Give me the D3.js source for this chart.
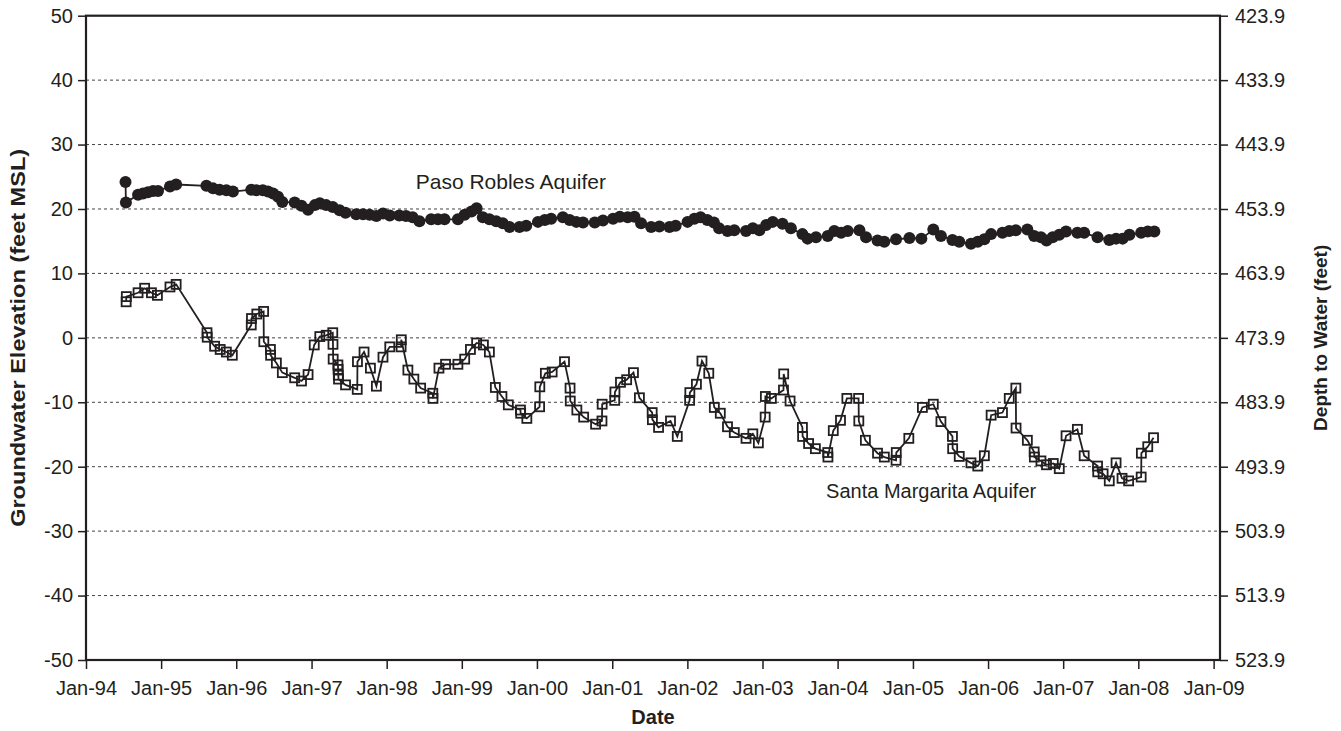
<!DOCTYPE html>
<html>
<head>
<meta charset="utf-8">
<script src="https://cdn.jsdelivr.net/npm/d3@7"></script>
<style>
  body { margin: 0; background: #fff; }
  svg text { font-family: Arial, "Liberation Sans", sans-serif; fill: #231f20; }
</style>
</head>
<body>
<div id="chart"></div>
<script>
// Paso Robles Aquifer (filled circles)
var prDates = ["1994-07-12","1994-07-14","1994-09-11","1994-10-05","1994-10-29","1994-11-23","1994-12-17",
  "1995-02-13","1995-03-15","1995-08-09","1995-09-10","1995-10-12","1995-11-14","1995-12-16",
  "1996-03-14","1996-04-08","1996-05-09","1996-06-03","1996-06-28","1996-07-22","1996-08-12","1996-10-11","1996-11-13","1996-12-15",
  "1997-01-17","1997-02-10","1997-03-13","1997-04-14","1997-05-17","1997-06-15","1997-08-06","1997-09-08","1997-10-10","1997-11-12","1997-12-14",
  "1998-01-16","1998-03-03","1998-04-05","1998-05-07","1998-06-09","1998-08-05","1998-09-07","1998-10-09","1998-12-13",
  "1999-01-15","1999-02-17","1999-03-14","1999-04-13","1999-05-15","1999-06-17","1999-07-19","1999-08-21","1999-10-08","1999-11-10",
  "2000-01-06","2000-02-08","2000-03-10","2000-05-06","2000-06-08","2000-07-10","2000-08-12","2000-10-08","2000-11-17",
  "2001-01-05","2001-02-07","2001-03-17","2001-04-19","2001-05-21","2001-07-09","2001-08-18","2001-10-06","2001-11-05",
  "2002-01-02","2002-02-04","2002-03-06","2002-04-08","2002-05-10","2002-06-04","2002-07-15","2002-08-17","2002-10-13","2002-11-15","2002-12-17",
  "2003-01-19","2003-02-20","2003-04-08","2003-05-19","2003-07-14","2003-08-08","2003-09-18","2003-11-14","2003-12-16",
  "2004-01-18","2004-02-19","2004-04-16","2004-05-18","2004-07-13","2004-08-15","2004-10-11","2004-12-15",
  "2005-02-11","2005-04-10","2005-05-17","2005-07-12","2005-08-14","2005-10-10","2005-11-12","2005-12-14",
  "2006-01-16","2006-03-12","2006-04-14","2006-05-16","2006-07-11","2006-08-13","2006-09-15","2006-10-12","2006-11-11","2006-12-13",
  "2007-01-15","2007-03-11","2007-04-13","2007-06-17","2007-08-13","2007-09-15","2007-10-17","2007-11-19",
  "2008-01-15","2008-02-16","2008-03-19"];
var prValues = [24.2,21.0,22.2,22.4,22.6,22.8,22.8,
  23.5,23.8,23.6,23.2,23.0,22.9,22.7,
  23.0,22.9,22.9,22.7,22.4,21.9,21.1,21.0,20.5,19.9,
  20.6,20.9,20.6,20.3,19.8,19.4,19.2,19.2,19.1,18.9,19.3,
  19.0,19.0,18.9,18.7,18.1,18.4,18.4,18.4,18.4,
  19.1,19.6,20.1,18.7,18.4,18.1,17.8,17.2,17.2,17.4,
  18.0,18.3,18.5,18.7,18.3,18.0,17.9,17.9,18.2,
  18.5,18.8,18.7,18.8,17.8,17.2,17.3,17.2,17.4,
  18.0,18.5,18.7,18.3,17.9,17.0,16.6,16.7,16.6,17.0,16.7,
  17.5,18.0,17.7,17.0,16.1,15.4,15.6,15.8,16.6,
  16.3,16.6,16.7,15.6,15.1,14.9,15.3,15.5,
  15.4,16.8,15.8,15.2,14.9,14.6,14.9,15.3,
  16.1,16.3,16.6,16.7,16.8,15.8,15.6,15.1,15.6,16.0,
  16.5,16.3,16.3,15.6,15.2,15.4,15.4,16.0,
  16.3,16.5,16.5];

// Santa Margarita Aquifer (open squares)
var smDates = ["1994-07-15","1994-07-16","1994-09-11","1994-10-13","1994-11-15","1994-12-14",
  "1995-02-13","1995-03-15","1995-08-12","1995-08-13","1995-09-18","1995-10-15","1995-11-14","1995-12-13",
  "1996-03-14","1996-03-15","1996-04-10","1996-05-13","1996-05-14","1996-06-15","1996-06-16","1996-07-14","1996-08-12","1996-10-11","1996-11-13","1996-12-15",
  "1997-01-14","1997-02-10","1997-03-13","1997-04-14","1997-04-15","1997-04-16","1997-05-09","1997-05-10","1997-05-11","1997-05-12","1997-06-15","1997-08-11","1997-08-12","1997-09-13","1997-10-14","1997-11-12","1997-12-14",
  "1998-01-16","1998-03-12","1998-03-13","1998-04-14","1998-05-13","1998-06-15","1998-08-13","1998-08-14","1998-09-12","1998-10-14","1998-12-13",
  "1999-01-15","1999-02-12","1999-03-14","1999-04-16","1999-05-15","1999-06-13","1999-07-15","1999-08-15","1999-10-13","1999-10-14","1999-11-13",
  "2000-01-14","2000-01-15","2000-02-11","2000-03-15","2000-05-14","2000-06-10","2000-06-11","2000-07-13","2000-08-15","2000-10-12","2000-11-12","2000-11-13",
  "2001-01-13","2001-01-14","2001-02-10","2001-03-12","2001-04-14","2001-05-13","2001-07-14","2001-07-15","2001-08-14","2001-10-11","2001-11-13",
  "2002-01-12","2002-01-13","2002-02-14","2002-03-13","2002-04-15","2002-05-12","2002-06-10","2002-07-15","2002-08-17","2002-10-13","2002-11-15","2002-12-12",
  "2003-01-14","2003-01-15","2003-02-13","2003-04-13","2003-04-14","2003-05-15","2003-07-14","2003-07-15","2003-08-13","2003-09-15","2003-11-14","2003-11-15","2003-12-11",
  "2004-01-15","2004-02-15","2004-04-12","2004-04-13","2004-05-15","2004-07-13","2004-08-15","2004-10-11","2004-10-12","2004-12-12",
  "2005-02-16","2005-04-10","2005-05-17","2005-07-12","2005-07-13","2005-08-14","2005-10-10","2005-11-12","2005-12-14",
  "2006-01-16","2006-03-12","2006-04-14","2006-05-16","2006-05-17","2006-07-11","2006-08-13","2006-08-14","2006-09-15","2006-10-12","2006-11-14","2006-12-13",
  "2007-01-15","2007-03-11","2007-04-13","2007-06-17","2007-06-18","2007-07-14","2007-08-13","2007-09-15","2007-10-14","2007-11-15",
  "2008-01-15","2008-01-16","2008-02-16","2008-03-15"];
var smValues = [5.6,6.4,7.0,7.7,7.0,6.6,
  7.9,8.3,0.8,0.1,-1.3,-1.8,-2.2,-2.7,
  2.0,3.0,3.7,4.1,-0.6,-1.8,-2.7,-3.9,-5.4,-6.2,-6.7,-5.7,
  -1.1,0.2,0.4,0.8,-1.0,-3.3,-4.2,-4.9,-5.8,-6.4,-7.3,-8.0,-3.7,-2.2,-4.7,-7.5,-3.0,
  -1.4,-1.4,-0.3,-5.0,-6.4,-7.8,-8.6,-9.4,-4.7,-4.1,-4.1,
  -3.3,-1.8,-0.8,-1.1,-2.2,-7.7,-9.1,-10.4,-11.2,-11.7,-12.5,
  -10.7,-7.6,-5.5,-5.3,-3.7,-7.8,-9.8,-11.2,-12.3,-13.4,-12.9,-10.3,
  -9.7,-8.4,-6.9,-6.5,-5.4,-9.3,-11.6,-12.7,-13.9,-12.9,-15.3,
  -9.7,-8.5,-7.2,-3.6,-5.5,-10.8,-11.7,-13.8,-14.7,-15.6,-14.9,-16.3,
  -12.3,-9.1,-9.4,-8.1,-5.6,-9.8,-13.9,-15.3,-16.4,-17.2,-17.8,-18.5,-14.4,
  -12.8,-9.4,-9.4,-12.9,-15.9,-17.9,-18.5,-19.0,-17.8,-15.6,
  -10.8,-10.3,-13.0,-15.3,-17.2,-18.4,-19.4,-19.9,-18.3,
  -12.0,-11.6,-9.4,-7.8,-14.0,-15.9,-17.7,-18.5,-19.1,-19.7,-19.5,-20.3,
  -15.2,-14.2,-18.3,-19.9,-20.8,-21.1,-22.2,-19.4,-21.8,-22.2,
  -21.6,-17.9,-16.9,-15.5];

// axis ticks
var elevTicks = [-50,-40,-30,-20,-10,0,10,20,30,40,50];
var depthTicks = [423.9,433.9,443.9,453.9,463.9,473.9,483.9,493.9,503.9,513.9,523.9];
var seriesLabels = ["Paso Robles Aquifer","Santa Margarita Aquifer"];

var width = 1341, height = 731;
var margin = {left: 86, right: 121, top: 15.7, bottom: 71};
var ink = "#231f20";
var parse = d3.timeParse("%Y-%m-%d");

var svg = d3.select("#chart").append("svg")
  .attr("width", width)
  .attr("height", height);

var x = d3.scaleTime()
  .domain([new Date(1994,0,1), new Date(2009,1,1)])
  .range([margin.left, width - margin.right]);
var y = d3.scaleLinear()
  .domain([-50, 50])
  .range([height - margin.bottom, margin.top]);
var yDepth = d3.scaleLinear()
  .domain([523.9, 423.9])
  .range([height - margin.bottom, margin.top]);

var x0 = x.range()[0], x1 = x.range()[1];
var yTop = y.range()[1], yBot = y.range()[0];

//dashed gridlines
svg.append("g").selectAll("line")
  .data(elevTicks.filter(function(d){ return d > -50 && d < 50; }))
  .enter().append("line")
  .attr("x1", x0).attr("x2", x1)
  .attr("y1", function(d){ return y(d); })
  .attr("y2", function(d){ return y(d); })
  .attr("stroke", "#444")
  .attr("stroke-width", 1)
  .attr("stroke-dasharray", "3,3");

//left axis (plain hyphen for negatives, like the original)
var gLeft = svg.append("g")
  .attr("transform", "translate(" + x0 + ",0)")
  .call(d3.axisLeft(y).tickValues(elevTicks).tickSize(8).tickPadding(5)
    .tickFormat(function(d){ return String(d); }));
//right axis
var gRight = svg.append("g")
  .attr("transform", "translate(" + x1 + ",0)")
  .call(d3.axisRight(yDepth).tickValues(depthTicks).tickSize(8).tickPadding(7).tickFormat(d3.format(".1f")));
//bottom axis
var gBottom = svg.append("g")
  .attr("transform", "translate(0," + yBot + ")")
  .call(d3.axisBottom(x).ticks(d3.timeYear.every(1)).tickSize(9).tickPadding(12).tickFormat(d3.timeFormat("%b-%y")));

[gLeft, gRight, gBottom].forEach(function(g){
  g.select(".domain").remove();
  g.selectAll(".tick line").attr("stroke", ink).attr("stroke-width", 1.5);
  g.selectAll(".tick text").attr("font-size", 20).attr("fill", ink)
    .style("font-family", "Arial, 'Liberation Sans', sans-serif");
});

//frame
svg.append("rect")
  .attr("x", x0).attr("y", yTop)
  .attr("width", x1 - x0).attr("height", yBot - yTop)
  .attr("fill", "none").attr("stroke", ink).attr("stroke-width", 2.2);

//lines
var line = d3.line()
  .x(function(d){ return x(d.date); })
  .y(function(d){ return y(d.value); });

var pr = prDates.map(function(d, i){ return {date: parse(d), value: prValues[i]}; });
var sm = smDates.map(function(d, i){ return {date: parse(d), value: smValues[i]}; });

svg.append("path").datum(sm)
  .attr("d", line).attr("fill", "none").attr("stroke", ink).attr("stroke-width", 1.8);
svg.append("path").datum(pr)
  .attr("d", line).attr("fill", "none").attr("stroke", ink).attr("stroke-width", 1.8);

var sq = 9;
svg.append("g").selectAll("rect")
  .data(sm).enter().append("rect")
  .attr("x", function(d){ return x(d.date) - sq/2; })
  .attr("y", function(d){ return y(d.value) - sq/2; })
  .attr("width", sq).attr("height", sq)
  .attr("fill", "none").attr("stroke", ink).attr("stroke-width", 1.8);

svg.append("g").selectAll("circle")
  .data(pr).enter().append("circle")
  .attr("cx", function(d){ return x(d.date); })
  .attr("cy", function(d){ return y(d.value); })
  .attr("r", 6)
  .attr("fill", ink);

//series labels
svg.append("text")
  .attr("x", x(new Date(1998,4,22))).attr("y", y(23.1))
  .attr("font-size", 21).text(seriesLabels[0]);
svg.append("text")
  .attr("x", x(new Date(2003,10,6))).attr("y", y(-24.9))
  .attr("font-size", 20).text(seriesLabels[1]);

//axis titles - the left one is stretched in the original
svg.append("text")
  .attr("transform", "translate(25," + ((yTop + yBot)/2) + ") rotate(-90)")
  .attr("text-anchor", "middle")
  .attr("font-size", 19.5).attr("font-weight", "bold")
  .attr("textLength", 378).attr("lengthAdjust", "spacingAndGlyphs")
  .text("Groundwater Elevation (feet MSL)");
svg.append("text")
  .attr("transform", "translate(1327," + ((yTop + yBot)/2) + ") rotate(-90)")
  .attr("text-anchor", "middle")
  .attr("font-size", 19).attr("font-weight", "bold")
  .text("Depth to Water (feet)");
svg.append("text")
  .attr("x", (x0 + x1)/2).attr("y", 724)
  .attr("text-anchor", "middle")
  .attr("font-size", 20).attr("font-weight", "bold")
  .text("Date");
</script>
</body>
</html>
